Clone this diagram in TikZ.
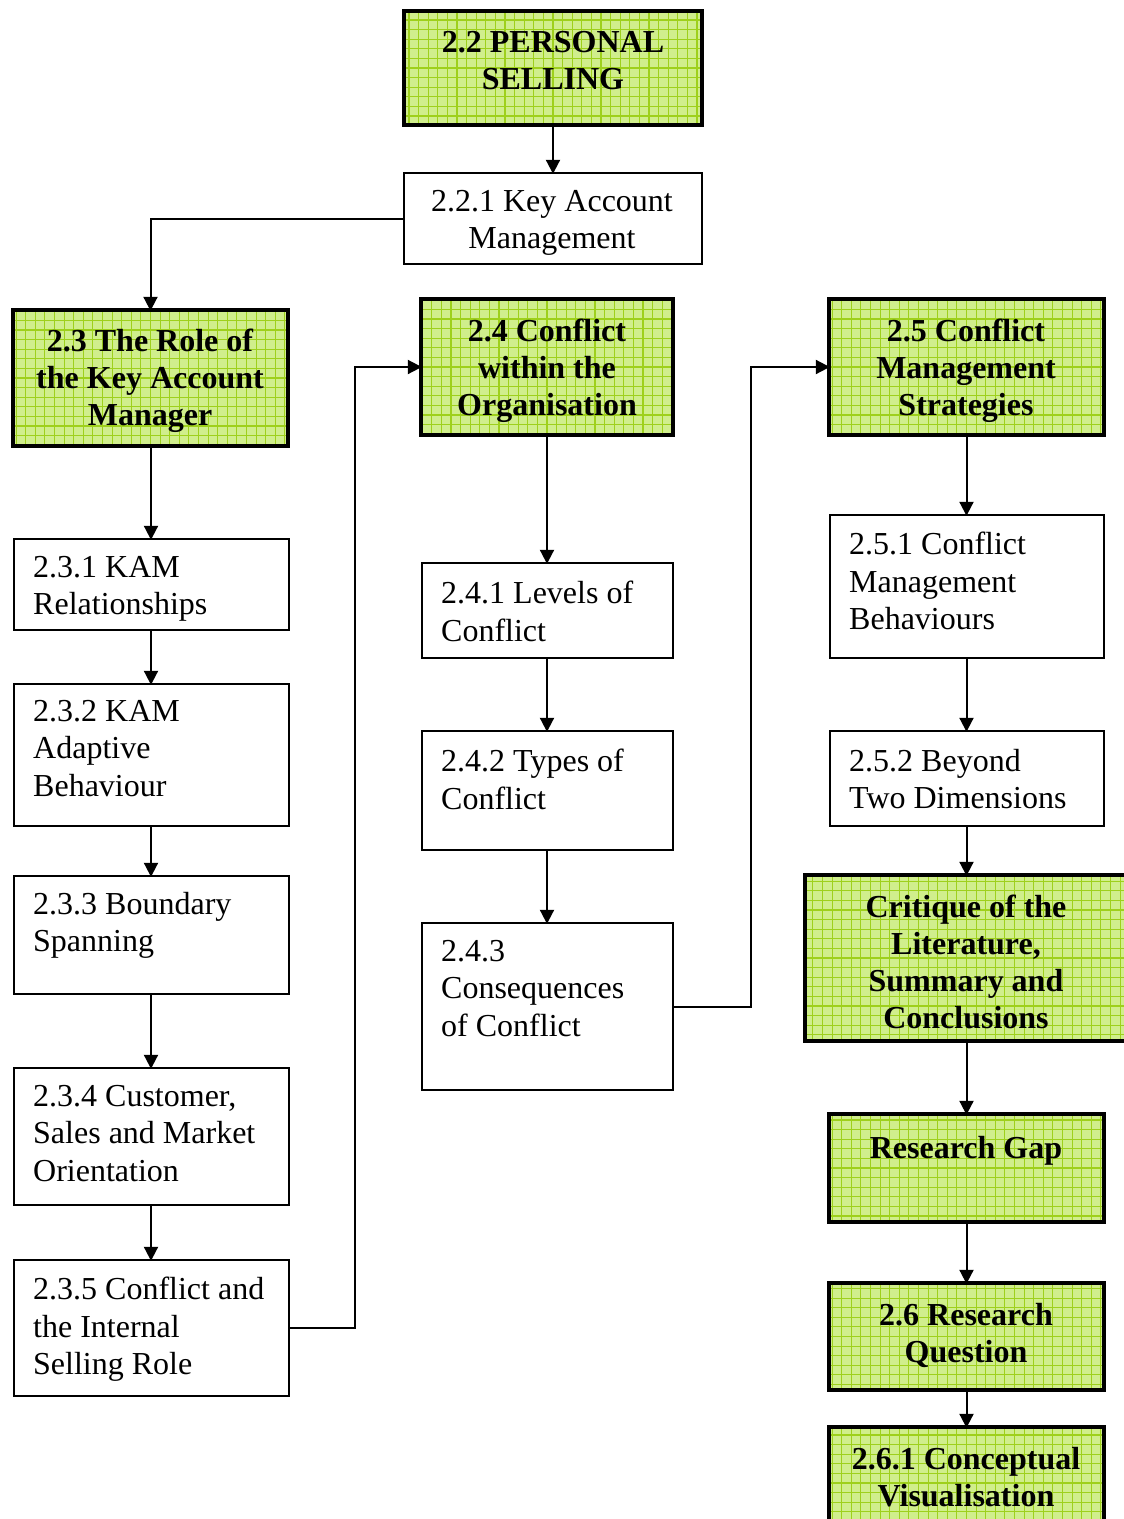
\documentclass[tikz,border=0pt]{standalone}
\usepackage{fontspec}
\setmainfont{Liberation Serif}
\usetikzlibrary{arrows.meta}
\definecolor{gfill}{RGB}{208,238,140}
\definecolor{gline}{RGB}{158,208,28}
\begin{document}
\begin{tikzpicture}[x=1pt,y=-1pt,
  gbox/.style={draw=black, line width=4.5pt, fill=gfill, anchor=north west, inner sep=0pt, outer sep=0pt,
    path picture={\draw[gline, line width=1.1pt]
      (path picture bounding box.south west) grid[step=9.6pt]
      (path picture bounding box.north east);}},
  wbox/.style={draw=black, line width=2pt, fill=white, anchor=north west, inner sep=0pt, outer sep=0pt},
  btxt/.style={font=\fontsize{32}{36.8}\selectfont\bfseries, align=center, anchor=north, inner sep=0pt},
  ctxt/.style={font=\fontsize{32}{37.5}\selectfont, align=center, anchor=north, inner sep=0pt},
  ltxt/.style={font=\fontsize{32}{37.5}\selectfont, align=left, anchor=north west, inner sep=0pt},
  conn/.style={line width=2pt, -{Triangle[length=14pt,width=14pt]}, shorten >=-0.8pt}]
\clip (0,0) rectangle (1124,1519);
\fill[white] (0,0) rectangle (1124,1519);

% --- boxes ---
\node[gbox, minimum width=298pt, minimum height=114pt] (a) at (404,11) {};
\node[wbox, minimum width=298pt, minimum height=91pt] (b) at (404,173) {};

\node[gbox, minimum width=275pt, minimum height=136pt] (c) at (13,310) {};
\node[wbox, minimum width=275pt, minimum height=91pt] (c1) at (13.5,539) {};
\node[wbox, minimum width=275pt, minimum height=142pt] (c2) at (13.5,684) {};
\node[wbox, minimum width=275pt, minimum height=118pt] (c3) at (13.5,876) {};
\node[wbox, minimum width=275pt, minimum height=137pt] (c4) at (13.5,1068) {};
\node[wbox, minimum width=275pt, minimum height=136pt] (c5) at (13.5,1260) {};

\node[gbox, minimum width=252pt, minimum height=136pt] (d) at (421,299) {};
\node[wbox, minimum width=251pt, minimum height=95pt] (d1) at (421.5,563) {};
\node[wbox, minimum width=251pt, minimum height=119pt] (d2) at (421.5,731) {};
\node[wbox, minimum width=251pt, minimum height=167pt] (d3) at (421.5,923) {};

\node[gbox, minimum width=275pt, minimum height=136pt] (e) at (829,299) {};
\node[wbox, minimum width=274pt, minimum height=143pt] (e1) at (829.5,515) {};
\node[wbox, minimum width=274pt, minimum height=95pt] (e2) at (829.5,731) {};
\node[gbox, minimum width=323pt, minimum height=166pt] (f) at (805,875) {};
\node[gbox, minimum width=275pt, minimum height=108pt] (g) at (829,1114) {};
\node[gbox, minimum width=275pt, minimum height=107pt] (h) at (829,1283) {};
\node[gbox, minimum width=275pt, minimum height=112pt] (i) at (829,1427) {};

% --- texts ---
\node[btxt] (at) at (553,31) {2.2 PERSONAL\\SELLING};
\node[ctxt] (bt) at (552,190) {2.2.1 Key Account\\Management};

\node[btxt] (ct) at (150,329) {2.3 The Role of\\the Key Account\\Manager};
\node[ltxt] (c1t) at (33,556) {2.3.1 KAM\\Relationships};
\node[ltxt] (c2t) at (33,700) {2.3.2 KAM\\Adaptive\\Behaviour};
\node[ltxt] (c3t) at (33,892) {2.3.3 Boundary\\Spanning};
\node[ltxt] (c4t) at (33,1085) {2.3.4 Customer,\\Sales and Market\\Orientation};
\node[ltxt] (c5t) at (33,1277) {2.3.5 Conflict and\\the Internal\\Selling Role};

\node[btxt] (dt) at (547,319) {2.4 Conflict\\within the\\Organisation};
\node[ltxt] (d1t) at (441,581) {2.4.1 Levels of\\Conflict};
\node[ltxt] (d2t) at (441,749) {2.4.2 Types of\\Conflict};
\node[ltxt] (d3t) at (441,940) {2.4.3\\Consequences\\of Conflict};

\node[btxt] (et) at (966,319) {2.5 Conflict\\Management\\Strategies};
\node[ltxt] (e1t) at (849,532) {2.5.1 Conflict\\Management\\Behaviours};
\node[ltxt] (e2t) at (849,749) {2.5.2 Beyond\\Two Dimensions};
\node[btxt] (ft) at (966,895) {Critique of the\\Literature,\\Summary and\\Conclusions};
\node[btxt] (gt) at (966,1136) {Research Gap};
\node[btxt] (ht) at (966,1303) {2.6 Research\\Question};
\node[btxt] (it) at (966,1447) {2.6.1 Conceptual\\Visualisation};

% --- connectors ---
\draw[conn] (a.south) -- (a.south |- b.north);
\draw[conn] (b.west) -| (c.north);
\draw[conn] (c1.north |- c.south) -- (c1.north);
\draw[conn] (c1) -- (c2);
\draw[conn] (c2) -- (c3);
\draw[conn] (c3) -- (c4);
\draw[conn] (c4) -- (c5);
\draw[conn] (c5.east) -- ++(66,0) |- (d.west);
\draw[conn] (d.south) -- (d.south |- d1.north);
\draw[conn] (d1) -- (d2);
\draw[conn] (d2) -- (d3);
\draw[conn] (d3.east) -- ++(78,0) |- (e.west);
\draw[conn] (e.south) -- (e.south |- e1.north);
\draw[conn] (e1) -- (e2);
\draw[conn] (e2.south) -- (e2.south |- f.north);
\draw[conn] (f.south -| e2.south) -- (e2.south |- g.north);
\draw[conn] (g) -- (h);
\draw[conn] (h) -- (i);
\end{tikzpicture}
\end{document}
